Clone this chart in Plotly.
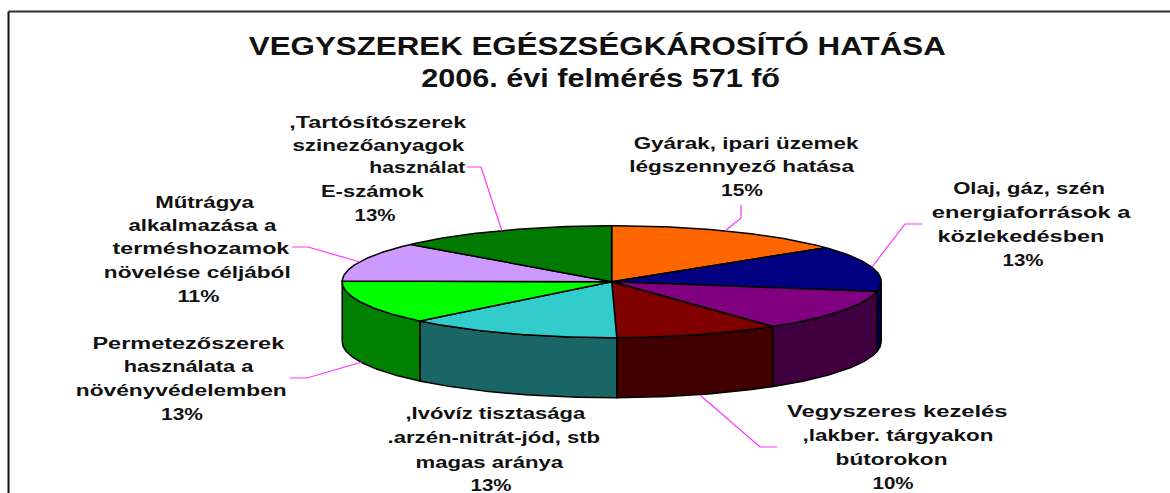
import json
import numpy as np
import plotly.graph_objects as go

# ---- data ----
slice_names = ["Gyárak", "Olaj", "Egyéb", "Vegyszeres", "Ivóvíz", "Permetezőszerek", "Műtrágya", "Tartósítószerek"]
slice_values = [14.6, 13.2, 12.0, 9.9, 12.9, 12.6, 11.4, 13.4]
top_colors = ["#FF6600", "#000080", "#800080", "#800000", "#33CCCC", "#00FF00", "#CC99FF", "#007A00"]
side_colors = ["#803300", "#000050", "#400040", "#400000", "#1A6666", "#008000", "#664C80", "#004000"]

# (text, centre x, y, drawn width)
title_lines = [
    ("VEGYSZEREK EGÉSZSÉGKÁROSÍTÓ HATÁSA", 597, 45, 697),
    ("2006. évi felmérés 571 fő", 600, 78, 359),
]

# label lines, "{p}" replaced by the slice's percentage: (slice index, text, centre x, y, drawn width)
label_lines = [
    (0, "Gyárak, ipari üzemek", 746, 143, 225), (0, "légszennyező hatása", 741, 166, 225), (0, "{p}", 742, 190, 42),
    (1, "Olaj, gáz, szén", 1029, 188, 152), (1, "energiaforrások a", 1031, 212, 199), (1, "közlekedésben", 1021, 236, 167), (1, "{p}", 1023, 260, 41),
    (3, "Vegyszeres kezelés", 897, 411, 221), (3, ",lakber. tárgyakon", 898, 435, 191), (3, "bútorokon", 891, 459, 112), (3, "{p}", 893, 483, 41),
    (4, ",Ivóvíz tisztasága", 495, 413, 180), (4, ".arzén-nitrát-jód, stb", 494, 437, 213), (4, "magas aránya", 489, 462, 148), (4, "{p}", 491, 485, 41),
    (5, "Permetezőszerek", 188, 343, 192), (5, "használata a", 188, 366, 130), (5, "növényvédelemben", 181, 390, 211), (5, "{p}", 182, 414, 42),
    (6, "Műtrágya", 204, 202, 99), (6, "alkalmazása a", 202, 225, 148), (6, "terméshozamok", 201, 248, 177), (6, "növelése céljából", 197, 272, 187), (6, "{p}", 198, 296, 42),
    (7, ",Tartósítószerek", 378, 122, 177), (7, "szinezőanyagok", 378, 145, 172), (7, "használat", 418, 167, 97), (7, "E-számok", 372, 191, 103), (7, "{p}", 375, 215, 41),
]

leader_lines = [
    ([467, 481, 502], [167, 167, 231]),
    ([292, 308, 360], [247, 247, 262]),
    ([741, 741, 725], [205, 218, 231]),
    ([922, 905, 872], [224, 224, 267]),
    ([777, 760, 700], [447, 447, 395]),
    ([290, 307, 362], [378, 378, 362]),
]

# ---- pie geometry ----
CX, CY, RX, RY, DEPTH = 611.7, 281.7, 269.5, 56, 60


def rim(a, b, n=60):
    t = np.radians(np.linspace(a, b, n))
    return CX + RX * np.sin(t), CY - RY * np.cos(t)


fig = go.Figure()

# frame
fig.add_shape(type="line", x0=8.5, x1=1170, y0=11.5, y1=11.5, line=dict(color="#333333", width=2))
fig.add_shape(type="line", x0=8.5, x1=8.5, y0=11.5, y1=493, line=dict(color="#111111", width=2))

edges = np.concatenate([[0], np.cumsum(slice_values)]) / sum(slice_values) * 360

# walls
for i, name in enumerate(slice_names):
    a, b = max(edges[i], 90), min(edges[i + 1], 270)
    if b <= a:
        continue
    x, y = rim(a, b)
    fig.add_trace(go.Scatter(
        x=np.concatenate([x, x[::-1], x[:1]]),
        y=np.concatenate([y, y[::-1] + DEPTH, y[:1]]),
        mode="lines", fill="toself", fillcolor=side_colors[i],
        line=dict(color="black", width=1.5), name=name + " oldal", hoverinfo="skip",
    ))

# top faces
for i, name in enumerate(slice_names):
    x, y = rim(edges[i], edges[i + 1])
    fig.add_trace(go.Scatter(
        x=np.concatenate([[CX], x, [CX]]),
        y=np.concatenate([[CY], y, [CY]]),
        mode="lines", fill="toself", fillcolor=top_colors[i],
        line=dict(color="black", width=1.5), name=name, hoverinfo="name",
    ))

# leader lines
for lx, ly in leader_lines:
    fig.add_trace(go.Scatter(x=lx, y=ly, mode="lines", line=dict(color="#FF33FF", width=1.2), hoverinfo="skip"))

widths = []
for txt, x, y, w in title_lines:
    fig.add_annotation(x=x, y=y, text="<b>" + txt + "</b>", showarrow=False, xanchor="center", yanchor="middle",
                       font=dict(family="Liberation Sans", size=25, color="#111111"))
    widths.append(w)

for idx, txt, x, y, w in label_lines:
    txt = txt.replace("{p}", f"{round(slice_values[idx])}%")
    fig.add_annotation(x=x, y=y, text="<b>" + txt + "</b>", showarrow=False, xanchor="center", yanchor="middle",
                       font=dict(family="Liberation Sans", size=16, color="#111111"))
    widths.append(w)

fig.update_layout(
    width=1170, height=493, margin=dict(l=0, r=0, t=0, b=0),
    paper_bgcolor="white", plot_bgcolor="white", showlegend=False,
    xaxis=dict(range=[0, 1170], visible=False, fixedrange=True),
    yaxis=dict(range=[493, 0], visible=False, fixedrange=True),
)

post = """
document.body.style.margin='0';
var W=%s;
document.querySelectorAll('.annotation-text').forEach(function(t,i){
  var b=t.getBBox(), c=b.x+b.width/2, s=W[i]/b.width;
  t.setAttribute('transform','translate('+c+',0) scale('+s+',1) translate('+(-c)+',0)');
});
""" % json.dumps(widths)
fig.write_html("out.html", post_script=post, config={"displayModeBar": False})
